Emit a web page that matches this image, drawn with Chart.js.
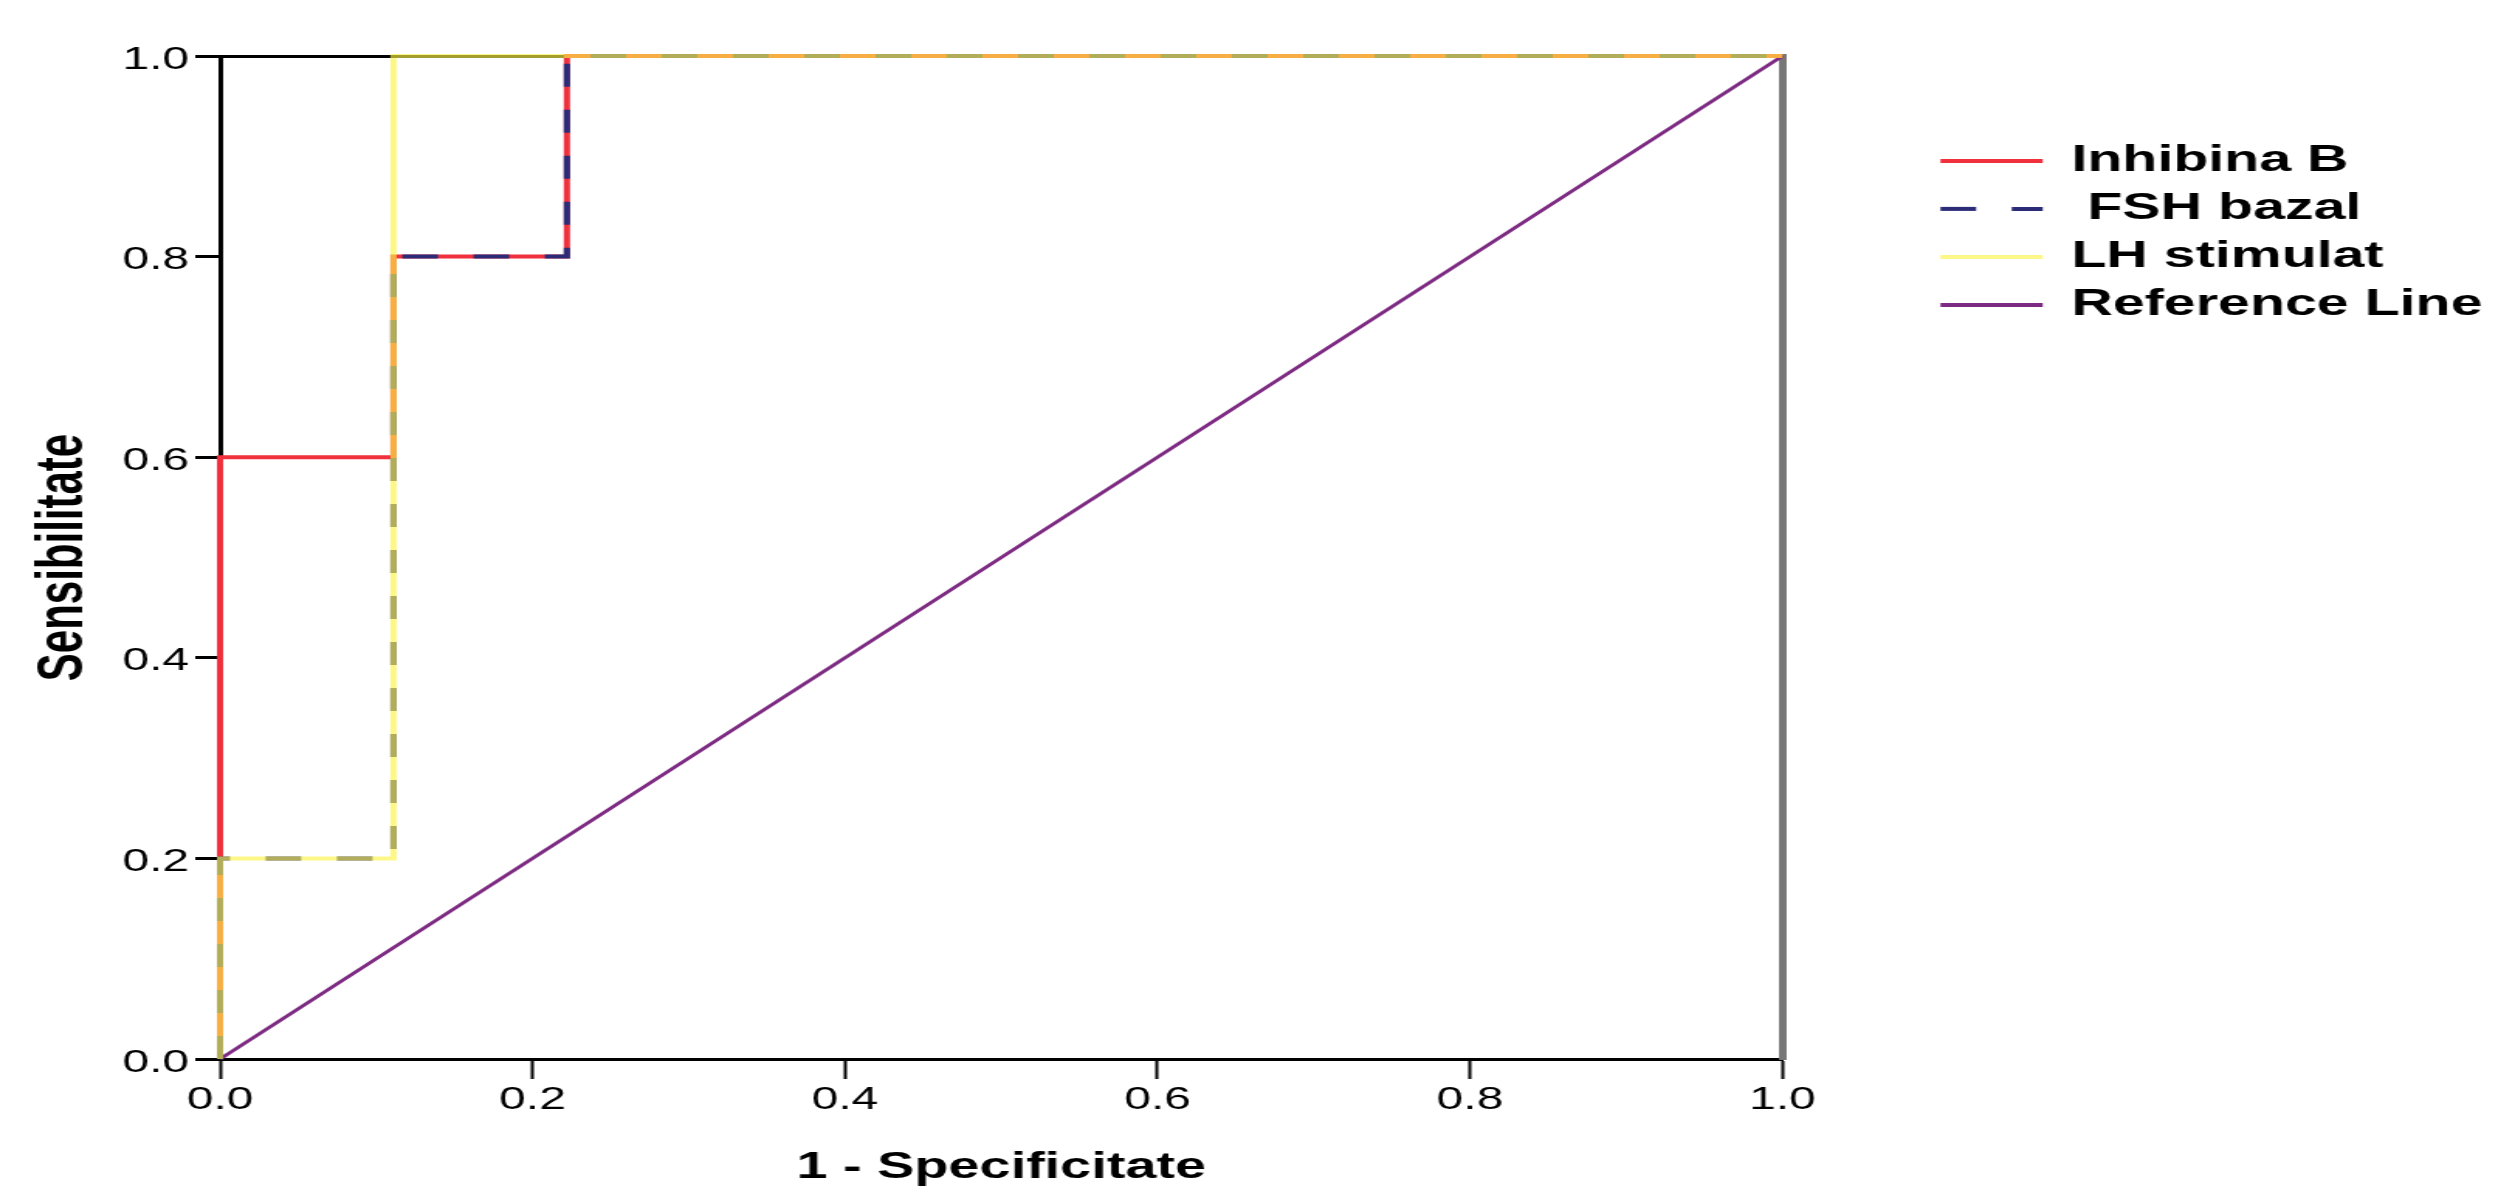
<!DOCTYPE html>
<html>
<head>
<meta charset="utf-8">
<title>Curba ROC</title>
<script src="https://cdn.jsdelivr.net/npm/chart.js@4.4.1/dist/chart.umd.min.js"></script>
<style>
    html, body { margin: 0; padding: 0; background: #fff; overflow: hidden; }
    /* the original export is stretched sideways, so draw narrow and stretch */
    #wrap { width: 1612px; height: 1190px; transform: scaleX(1.5496); transform-origin: 0 0; }
</style>
</head>
<body>
<div id="wrap"><canvas id="roc" width="1612" height="1190"></canvas></div>
<script>
// ROC data: x = 1 - specificitate, y = sensibilitate
const inhibinaX = [0, 0, 0.111, 0.111, 0.222, 0.222, 1];
const inhibinaY = [0, 0.6, 0.6, 0.8, 0.8, 1, 1];
const fshX = [0, 0, 0.111, 0.111, 0.222, 0.222, 1];
const fshY = [0, 0.2, 0.2, 0.8, 0.8, 1, 1];
const lhX = [0, 0, 0.111, 0.111, 1];
const lhY = [0, 0.2, 0.2, 1, 1];
const refX = [0, 1];
const refY = [0, 1];

const seriesNames = ['Inhibina B', ' FSH bazal', 'LH stimulat', 'Reference Line'];
const tickValues = [0, 0.2, 0.4, 0.6, 0.8, 1.0];
const tickLabels = ['0.0', '0.2', '0.4', '0.6', '0.8', '1.0'];

const FONT = "'Liberation Sans', Arial, sans-serif";

const toPoints = (xs, ys) => xs.map((x, i) => ({ x: x, y: ys[i] }));
const setTicks = (scale) => { scale.ticks = tickValues.map(v => ({ value: v })); };

const ctx = document.getElementById('roc').getContext('2d');
new Chart(ctx, {
    type: 'scatter',
    data: {
        datasets: [
            {
                label: seriesNames[0],
                data: toPoints(inhibinaX, inhibinaY),
                borderColor: '#f0303c',
                borderWidth: 4,
                order: 2
            },
            {
                label: seriesNames[1],
                data: toPoints(fshX, fshY),
                borderColor: '#2b2b78',
                borderWidth: 4,
                borderDash: [23, 23],
                order: 1
            },
            {
                label: seriesNames[2],
                data: toPoints(lhX, lhY),
                borderColor: 'rgba(250, 242, 70, 0.65)',
                borderWidth: 4,
                order: 0
            },
            {
                label: seriesNames[3],
                data: toPoints(refX, refY),
                borderColor: '#7d2a82',
                borderWidth: 3,
                order: 3
            }
        ]
    },
    options: {
        responsive: false,
        devicePixelRatio: 1,
        animation: false,
        datasets: {
            scatter: {
                showLine: true,
                pointRadius: 0,
                pointHoverRadius: 0,
                tension: 0,
                clip: false
            }
        },
        layout: {
            padding: { top: 56, right: 0, bottom: 0, left: 0 }
        },
        plugins: {
            tooltip: { enabled: false },
            legend: {
                position: 'right',
                align: 'start',
                maxWidth: 420,
                title: {
                    display: true,
                    text: '',
                    padding: { top: 61, bottom: 0 }
                },
                labels: {
                    usePointStyle: true,
                    pointStyleWidth: 66,
                    padding: 11,
                    color: '#000',
                    font: { family: FONT, size: 37, weight: 'bold' },
                    generateLabels: (chart) => chart.data.datasets.map((ds, i) => ({
                        text: ds.label,
                        strokeStyle: ds.borderColor,
                        fillStyle: ds.borderColor,
                        lineWidth: 4,
                        lineDash: ds.borderDash || [],
                        pointStyle: 'line',
                        fontColor: '#000',
                        hidden: false,
                        datasetIndex: i
                    }))
                }
            }
        },
        scales: {
            x: {
                type: 'linear',
                position: 'bottom',
                min: 0,
                max: 1,
                afterBuildTicks: setTicks,
                afterFit: (scale) => { scale.height = 131; },
                ticks: {
                    color: '#000',
                    padding: 3,
                    maxRotation: 0,
                    font: { family: FONT, size: 31 },
                    callback: (v, i) => tickLabels[i]
                },
                grid: {
                    drawOnChartArea: false,
                    tickLength: 20,
                    tickColor: '#000',
                    tickWidth: 2
                },
                border: { color: '#000', width: 3 },
                title: {
                    display: true,
                    text: '1 - Specificitate',
                    color: '#000',
                    padding: { top: 0, bottom: 0 },
                    font: { family: FONT, size: 36, weight: 'bold' }
                }
            },
            y: {
                type: 'linear',
                position: 'left',
                min: 0,
                max: 1,
                afterBuildTicks: setTicks,
                afterFit: (scale) => { scale.width = 142; },
                ticks: {
                    color: '#000',
                    padding: 4,
                    labelOffset: 4,
                    font: { family: FONT, size: 31 },
                    callback: (v, i) => tickLabels[i]
                },
                grid: {
                    // only the top frame line at 1.0 is visible
                    color: (c) => (c.tick && c.tick.value === 1 ? '#000' : 'rgba(0,0,0,0)'),
                    lineWidth: 3,
                    tickLength: 16,
                    tickColor: '#000',
                    tickWidth: 3
                },
                border: { color: '#000', width: 3 },
                title: {
                    display: true,
                    text: 'Sensibilitate',
                    color: '#000',
                    padding: { top: 16, bottom: 0 },
                    font: { family: FONT, size: 42, weight: 'bold' }
                }
            },
            // right frame of the plot, also keeps the gap before the legend
            frame: {
                type: 'linear',
                position: 'right',
                min: 0,
                max: 1,
                afterFit: (scale) => { scale.width = 91; },
                ticks: { display: false },
                grid: { display: false, drawTicks: false },
                border: { color: '#777', width: 5 }
            }
        }
    }
});
</script>
</body>
</html>
